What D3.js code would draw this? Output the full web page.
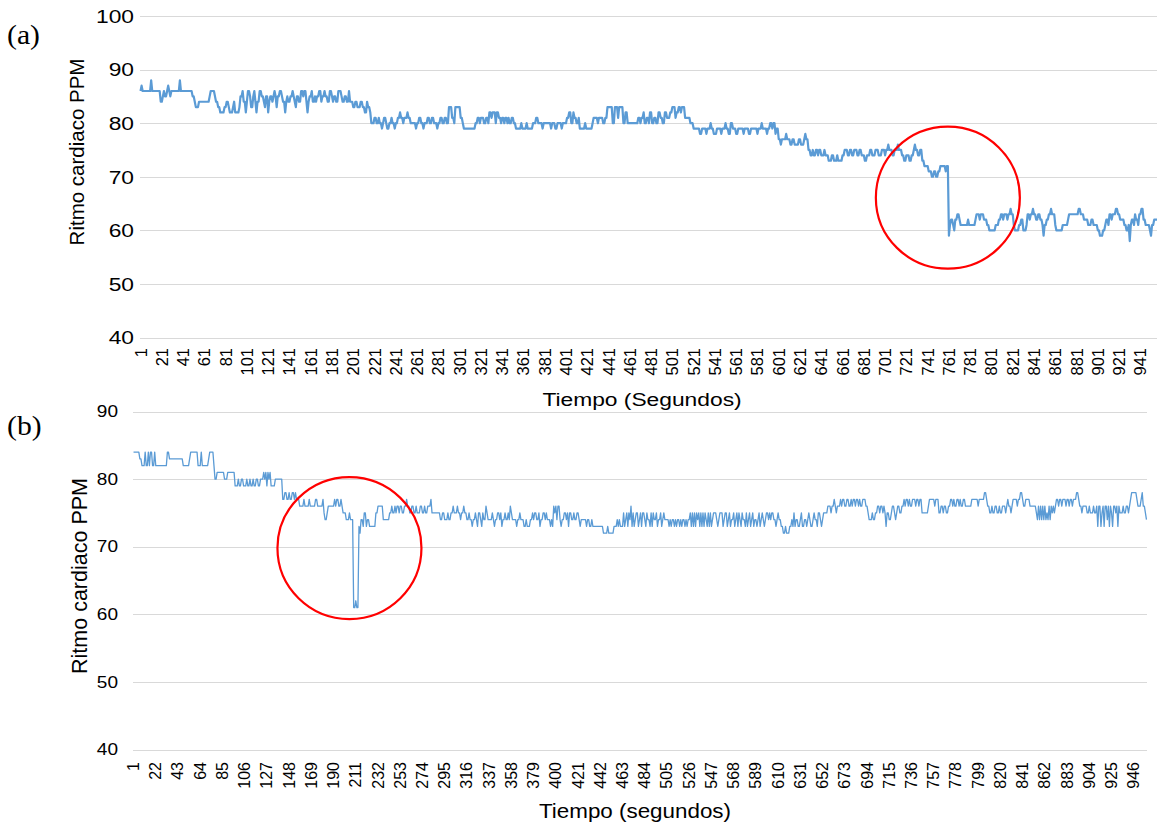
<!DOCTYPE html>
<html>
<head>
<meta charset="utf-8">
<script src="https://cdn.jsdelivr.net/npm/d3@7"></script>
<style>
  html, body { margin: 0; padding: 0; background: #fff; }
  svg { display: block; }
  text { font-family: "Liberation Sans", Arial, sans-serif; fill: #000; }
</style>
</head>
<body>
<svg id="chart" width="1157" height="827"></svg>
<script>
// Heart rate (beats per minute) per second, stored as [value, run length] pairs.
const ppmRunsA = [
  [86,1],[87,1],[86,8],[88,1],[86,8],[84,2],
  [85,1],[86,1],[85,2],[86,1],[87,1],[86,1],[85,1],[86,1],
  [86,7],[88,1],[86,11],
  [85,2],[84,1],[83,3],[84,2],[84,8],[85,1],[86,4],
  [85,1],[84,2],[83,2],[82,4],
  [83,2],[84,2],[83,1],[82,3],[83,1],[84,1],[82,4],[83,1],
  [85,2],[86,1],[84,2],[82,1],[84,1],[86,2],[85,1],[83,2],[85,1],[86,1],[84,1],[82,1],[84,2],[86,2],[85,2],[84,1],[83,1],[85,2],[82,1],[84,1],[85,2],[84,1],[85,1],[86,1],[85,1],[83,1],[85,2],[86,2],[85,1],[84,2],[82,1],[84,1],[85,1],[84,2],[85,2],[86,1],[85,1],[84,1],[83,1],[85,2],[84,2],
  [86,2],[85,1],[86,2],[84,1],[82,1],[84,1],[85,2],[86,1],[84,2],[85,1],
  [84,1],[85,2],[86,2],[84,1],[85,2],[86,1],[85,2],[84,2],[86,2],[85,1],[84,1],[85,2],[84,2],[86,3],[85,1],[84,2],[85,2],[84,2],[86,1],
  [84,3],[83,2],[84,2],[83,3],[84,2],[83,2],[82,2],[84,1],[83,2],
  [82,1],[80,3],[81,2],
  [80,2],[81,1],[80,2],[79,1],[80,1],[81,2],[80,1],[79,2],[80,2],[81,1],[80,2],[79,1],
  [80,2],[81,2],[82,1],[81,2],[80,1],[81,3],[82,1],[81,2],[80,2],
  [80,3],[79,1],[80,2],[81,2],[80,2],[79,1],[80,3],[81,2],[80,2],[81,2],[80,3],[79,1],[80,2],[81,2],[80,2],[81,2],[80,2],
  [83,3],[81,2],[80,1],[83,5],[81,2],
  [80,1],[79,11],
  [80,2],[81,2],[80,1],[81,3],[80,2],[81,2],[80,1],
  [82,2],[81,1],[82,3],[80,1],[82,2],[81,2],[80,1],
  [81,2],[80,1],[81,2],[80,1],[81,1],[80,2],[81,2],[80,2],
  [79,5],[80,1],[79,4],[80,1],[79,5],
  [80,3],[81,2],[80,4],[79,1],[80,3],
  [80,4],[79,1],[80,3],[79,2],[80,4],[79,1],[80,4],
  [81,2],[82,2],[80,2],[82,1],[81,2],[80,2],[81,1],
  [79,5],[80,1],[79,6],
  [80,1],[81,4],[80,1],[81,4],[80,2],[81,2],
  [83,5],[80,2],[83,3],[81,1],[83,4],[80,2],[82,2],
  [80,10],
  [81,2],[80,1],[81,2],[82,1],[80,2],[81,2],[80,1],[82,2],[80,2],[81,2],[80,2],
  [82,2],[81,2],[80,2],[82,2],[81,3],
  [82,2],[83,3],[81,1],[82,2],[83,2],[82,1],[83,3],[81,2],
  [81,3],[80,3],[79,3],
  [79,3],[78,2],[79,4],[78,1],[79,3],[80,1],[79,2],[78,3],[79,4],[78,1],[79,3],[80,1],[79,2],[78,2],
  [80,2],[79,3],[78,2],[79,5],[78,1],[79,4],[78,2],[79,6],[78,1],[79,3],[80,1],[79,4],[78,1],[79,2],
  [80,2],[79,1],[80,2],[78,1],[79,2],
  [77,2],[76,1],[77,4],[78,1],[77,3],[76,2],[77,2],
  [76,4],[77,2],[76,3],[77,1],[78,1],[77,2],
  [75,2],[74,2],[75,1],[74,2],[75,2],[74,1],[75,2],[74,3],[75,1],[74,3],
  [73,3],[74,2],[73,3],[74,1],[73,4],
  [74,2],[75,3],[74,2],[75,2],[74,2],[75,3],[74,2],[75,2],
  [74,3],[73,2],[74,3],[75,2],[74,3],[75,3],[74,3],
  [75,3],[74,1],[75,2],[76,1],[75,3],[74,2],[75,3],[76,1],[75,3],
  [74,2],[73,2],[74,3],[73,2],[74,2],[75,1],[76,1],[75,2],[74,2],[75,2],
  [73,2],[72,4],
  [71,3],[70,2],[71,2],[70,2],[71,2],[72,2],
  [72,3],[71,1],[72,2],
  [59,1],
  [61,1],[62,2],[61,1],[60,1],[62,2],[63,2],[62,1],[61,1],
  [61,6],[62,1],[61,6],
  [62,1],[63,3],[62,1],[63,3],[62,3],[61,2],
  [60,6],[61,3],
  [62,2],[63,2],[62,1],[63,3],[62,1],[63,2],[64,1],[63,2],
  [61,1],[60,4],[61,2],[62,2],[60,3],
  [61,1],[63,2],[62,1],[63,2],[64,1],[63,2],[62,2],[63,2],[62,2],
  [61,1],[59,1],[61,2],[62,2],
  [63,2],[64,1],[63,3],
  [61,1],[60,6],[61,5],
  [62,1],[63,9],[64,2],[63,3],
  [62,4],[61,3],[62,2],[61,4],
  [60,2],[59,3],[60,2],
  [61,1],[62,2],[61,1],[63,2],[62,1],[63,3],[64,2],[63,2],[62,2],
  [62,2],[61,2],[60,2],[61,1],[58,1],
  [61,1],[62,2],[61,1],[63,1],[62,2],[61,1],[63,2],[64,2],
  [62,2],[61,4],[60,1],[59,1],[61,2],[62,5]
];

const ppmRunsB = [
  [84,6],[83,2],[82,3],
  [84,1],[82,2],[84,1],[82,1],[84,2],[82,2],[84,1],[82,1],
  [82,10],[84,2],
  [83,13],[82,6],
  [83,1],[84,7],[82,2],
  [82,1],[84,1],[82,1],
  [82,5],[83,1],[84,4],[82,1],
  [80,2],[81,7],[80,3],[81,7],
  [79,3],[80,1],[79,2],[80,2],[79,3],[80,1],[79,2],[80,1],[79,2],[80,1],[79,2],
  [80,2],[79,2],[80,3],
  [81,1],[80,1],[81,1],[79,1],[81,1],[80,1],[81,1],[79,2],
  [79,2],[80,7],
  [77,2],[78,2],
  [77,2],[78,1],[77,2],[78,2],[77,1],[78,1],[77,3],
  [76,4],[77,1],[76,4],[77,1],[76,5],[77,2],[76,5],
  [77,1],[75,1],[74,2],[75,1],[76,1],
  [76,5],
  [77,1],[76,1],[77,2],[76,2],[77,1],[76,1],
  [75,3],[74,3],[75,1],[74,3],
  [61,2],[62,1],[61,2],
  [73,1],[72,1],[74,2],[73,1],[75,2],[73,1],[74,2],
  [73,6],
  [75,2],[76,5],
  [74,6],
  [75,2],[76,1],[75,2],[76,1],[75,1],[76,2],[75,1],[76,2],[75,2],[76,2],
  [77,1],[76,2],
  [75,2],[76,2],[75,2],[76,1],[75,3],[76,2],[75,2],[76,1],[75,2],[76,3],
  [77,1],[75,2],
  [75,6],
  [74,2],[75,2],[74,3],[75,1],[74,2],
  [75,2],[76,1],[75,3],[76,1],[75,2],[74,1],[75,2],[76,1],[75,2],
  [74,2],[75,1],[74,2],[73,1],[74,2],[75,1],[74,1],
  [73,1],[75,2],[74,1],[73,1],[75,1],[74,2],[76,1],[75,1],[74,2],
  [74,2],[75,1],[74,1],[73,1],[74,2],[75,2],[74,1],[75,1],[73,1],[74,2],[75,1],[74,2],[75,1],[74,1],
  [76,1],[75,1],[74,1],
  [74,3],[73,1],[74,2],[75,1],[74,3],
  [73,2],[74,1],[73,3],
  [74,2],[75,1],[74,1],[75,2],[74,2],[75,1],[73,1],[74,2],[75,2],[74,1],[75,1],[74,3],
  [73,1],[74,1],[73,1],[76,1],[75,1],[76,1],[74,1],[76,2],[74,1],[73,1],[74,2],
  [75,2],[74,1],[75,1],[73,1],[75,2],[74,2],[75,1],[74,2],[75,2],[74,1],[73,1],[74,2],
  [74,3],[73,1],[74,2],[73,2],[74,1],[73,4],
  [73,6],
  [72,4],[73,1],[72,5],
  [73,3],[74,1],[73,1],[74,1],[73,3],
  [75,1],[73,1],[74,1],[75,1],[73,1],[75,1],[74,1],[76,1],[73,1],[75,1],[73,1],[74,1],[75,2],[73,1],[74,1],[75,1],[73,1],[75,2],[74,1],[73,1],[75,1],[74,2],[73,1],[75,1],[73,1],[75,1],[74,2],[75,1],[73,1],[74,2],[75,1],[73,1],[74,1],[75,1],[74,2],
  [74,2],[73,1],[74,1],[73,1],[74,2],[73,1],[74,1],[73,1],[74,2],[73,1],[74,1],[73,1],[74,2],[73,1],[74,1],[73,1],[74,2],
  [75,1],[73,1],[75,1],[73,1],[75,1],[73,1],[75,1],[74,1],[75,1],[73,1],[75,1],[73,1],[75,1],[73,1],[75,1],[74,1],[73,1],[75,1],[73,1],[75,1],[73,1],[74,1],
  [75,3],[74,1],[73,1],[74,1],[75,3],[73,1],[74,1],[75,2],[73,1],[74,1],[75,1],[73,1],[74,2],
  [75,1],[73,1],[74,1],[75,1],[73,1],[75,1],[74,1],[73,1],[75,1],[74,2],[73,1],[75,1],[73,1],[74,1],[75,1],[73,1],[74,1],[75,1],[73,1],[74,2],[73,1],[74,1],[75,1],[73,1],[74,1],[75,1],[74,1],[73,1],[74,1],
  [75,2],[74,1],[75,1],[74,1],[75,2],[74,2],[73,1],[74,1],[75,1],[74,2],[73,2],
  [72,2],[73,1],[72,3],
  [73,2],[74,1],[73,1],[75,1],[73,1],[74,2],[73,2],[74,1],[75,1],[73,2],[74,2],[73,1],[74,1],[75,1],[74,1],[73,2],[74,1],[75,1],[74,2],[73,1],[75,2],[74,1],[73,1],
  [74,1],[75,4],
  [76,3],[75,1],[76,2],[77,1],[76,1],[75,1],[76,3],[77,1],[76,1],
  [77,2],[76,2],[77,2],
  [76,2],[77,1],[76,1],[77,2],[76,1],[77,2],[76,1],[77,1],[76,2],[77,3],[76,2],[75,1],
  [74,3],[75,1],[74,2],
  [75,2],[76,2],[75,1],[76,2],[75,1],[76,1],[75,1],[73,1],[75,2],
  [74,2],[75,1],[76,2],[75,1],[74,1],[75,1],[76,2],[75,2],
  [76,2],[77,1],[76,1],[77,2],[76,1],[77,1],[76,2],[77,3],[76,1],[77,2],[76,1],[77,2],
  [75,6],
  [76,1],[77,5],[76,1],[77,3],
  [75,2],[76,2],[75,1],[76,2],[75,2],
  [76,2],[77,2],[76,1],[77,1],[76,2],[77,2],[76,1],[77,1],[76,2],[77,2],
  [76,6],
  [77,6],[76,1],[77,5],[78,2],[77,1],
  [76,2],[75,2],[76,1],[75,2],[76,2],[75,2],[76,1],[75,2],[76,3],[75,1],[76,1],[77,1],[76,2],[75,1],[76,1],
  [77,4],[76,1],[77,2],[78,2],[77,1],[76,2],[77,4],
  [76,6],
  [75,1],[74,1],[76,1],[74,1],[76,1],[74,1],[76,1],[74,1],[76,1],[74,1],[75,1],[74,1],[76,1],[74,1],[76,1],[75,1],[76,1],[75,1],[76,1],
  [77,2],[76,1],[77,2],[76,1],[77,3],[76,1],[77,2],[76,1],[77,2],[76,1],[77,3],
  [78,2],[77,1],
  [76,2],[75,1],[76,4],
  [75,2],[76,1],[75,3],[76,1],[75,2],
  [76,1],[73,1],[76,2],[73,1],[75,1],[76,1],[73,1],[76,2],[74,1],[76,1],[73,1],[76,1],[75,1],[73,1],[76,2],[75,1],[76,1],[73,1],[76,1],[75,1],
  [75,2],[76,1],[75,2],[76,2],[75,1],[76,1],
  [77,1],[78,5],[77,1],[76,1],
  [76,2],[77,1],[78,1],[76,2],[75,1],[74,1]
];

// Axis ticks
const yTicksA = [40, 50, 60, 70, 80, 90, 100];
const yTicksB = [40, 50, 60, 70, 80, 90];
const xTickLabelsA = [1,21,41,61,81,101,121,141,161,181,201,221,241,261,281,301,321,341,361,381,401,421,441,461,481,501,521,541,561,581,601,621,641,661,681,701,721,741,761,781,801,821,841,861,881,901,921,941];
const xTickLabelsB = [1,22,43,64,85,106,127,148,169,190,211,232,253,274,295,316,337,358,379,400,421,442,463,484,505,526,547,568,589,610,631,652,673,694,715,736,757,778,799,820,841,862,883,904,925,946];

// Texts
const panelLabels = ["(a)", "(b)"];
const yTitle = "Ritmo cardiaco PPM";
const xTitles = ["Tiempo (Segundos)", "Tiempo (segundos)"];

// Highlighted events: [second, ppm] at the centre of each circle
const eventA = [760, 66.1];
const eventB = [205, 69.8];

const expand = runs => runs.flatMap(([v, c]) => Array(c).fill(v));
const seriesA = expand(ppmRunsA);
const seriesB = expand(ppmRunsB);

const svg = d3.select("#chart");
const LINE = "#5b9bd5";
const GRID = "#d9d9d9";

function label(g, x, y, str, o) {
  const t = g.append("text")
    .attr("transform", `translate(${x},${y}) rotate(${o.rotate || 0}) scale(${o.sx || 1},${o.sy || 1})`)
    .attr("text-anchor", o.anchor || "start")
    .attr("font-size", o.size)
    .text(str);
  if (o.baseline) t.attr("dominant-baseline", o.baseline);
  if (o.family) t.style("font-family", o.family);
  return t;
}

function panel(cfg) {
  const g = svg.append("g");
  const n = cfg.series.length;
  const idx = d3.range(1, n + 1);
  const x = d3.scaleBand().domain(idx).range([cfg.left, cfg.right]).padding(0);
  const cx = i => x(i) + x.bandwidth() / 2;
  const y = d3.scaleLinear().domain(cfg.yDomain).range([cfg.bottom, cfg.top]);

  // horizontal gridlines
  g.append("g").selectAll("line").data(cfg.yTicks).join("line")
    .attr("x1", cfg.left).attr("x2", cfg.gridRight)
    .attr("y1", d => Math.round(y(d)) + 0.5).attr("y2", d => Math.round(y(d)) + 0.5)
    .attr("stroke", GRID).attr("stroke-width", 1.2);

  // y tick labels
  cfg.yTicks.forEach(v => label(g, cfg.yLabelX, y(v), v, {
    size: cfg.yTickSize, anchor: "end", baseline: "central", sx: cfg.sx
  }));

  // x tick labels (rotated), one for every labelled category
  const xAxis = d3.axisBottom(x).tickValues(cfg.xTicks).tickSize(0).tickPadding(0);
  const ax = g.append("g").attr("transform", `translate(0,${cfg.xLabelY})`).call(xAxis);
  ax.select(".domain").remove();
  ax.selectAll(".tick text")
    .attr("transform", "rotate(-90)")
    .attr("text-anchor", "end")
    .attr("dominant-baseline", "central")
    .attr("x", 0).attr("y", 0).attr("dy", null)
    .attr("font-size", cfg.xTickSize)
    .style("font-family", '"Liberation Sans", Arial, sans-serif')
    .attr("fill", "#000");

  // series line
  const line = d3.line().x((d, i) => cx(i + 1)).y(d => y(d));
  g.append("path").datum(cfg.series)
    .attr("d", line)
    .attr("fill", "none")
    .attr("stroke", LINE)
    .attr("stroke-width", cfg.lineWidth)
    .attr("stroke-linejoin", "round");

  // event circle
  g.append("ellipse")
    .attr("cx", cx(cfg.event[0])).attr("cy", y(cfg.event[1]))
    .attr("rx", 72).attr("ry", 71)
    .attr("fill", "none").attr("stroke", "#ff0000").attr("stroke-width", 2.2);

  // titles
  label(g, cfg.xTitlePos[0], cfg.xTitlePos[1], cfg.xTitle, { size: cfg.titleSize, anchor: "middle", sx: cfg.sx });
  label(g, cfg.yTitlePos[0], cfg.yTitlePos[1], yTitle, { size: cfg.yTitleSize, anchor: "middle", rotate: -90, baseline: "central" });
  label(g, 7, cfg.panelY, cfg.panel, { size: 27, family: '"Liberation Serif", "Times New Roman", serif', sx: 1.1 });
}

panel({
  series: seriesA, yDomain: [40, 100], yTicks: yTicksA, xTicks: xTickLabelsA,
  left: 140, right: 1159, gridRight: 1157, top: 16, bottom: 337.5,
  yLabelX: 134, yTickSize: 19, xTickSize: 16.5, xLabelY: 348, sx: 1.2,
  lineWidth: 2.2, event: eventA,
  xTitle: xTitles[0], xTitlePos: [642, 406], titleSize: 19, yTitleSize: 20.5,
  yTitlePos: [76, 152], panel: panelLabels[0], panelY: 44
});

panel({
  series: seriesB, yDomain: [40, 90], yTicks: yTicksB, xTicks: xTickLabelsB,
  left: 133, right: 1147, gridRight: 1147, top: 411.5, bottom: 749.5,
  yLabelX: 118, yTickSize: 17, xTickSize: 16, xLabelY: 762, sx: 1.12,
  lineWidth: 1.3, event: eventB,
  xTitle: xTitles[1], xTitlePos: [635, 818], titleSize: 20, yTitleSize: 21.5,
  yTitlePos: [80, 576], panel: panelLabels[1], panelY: 435
});
</script>
</body>
</html>
